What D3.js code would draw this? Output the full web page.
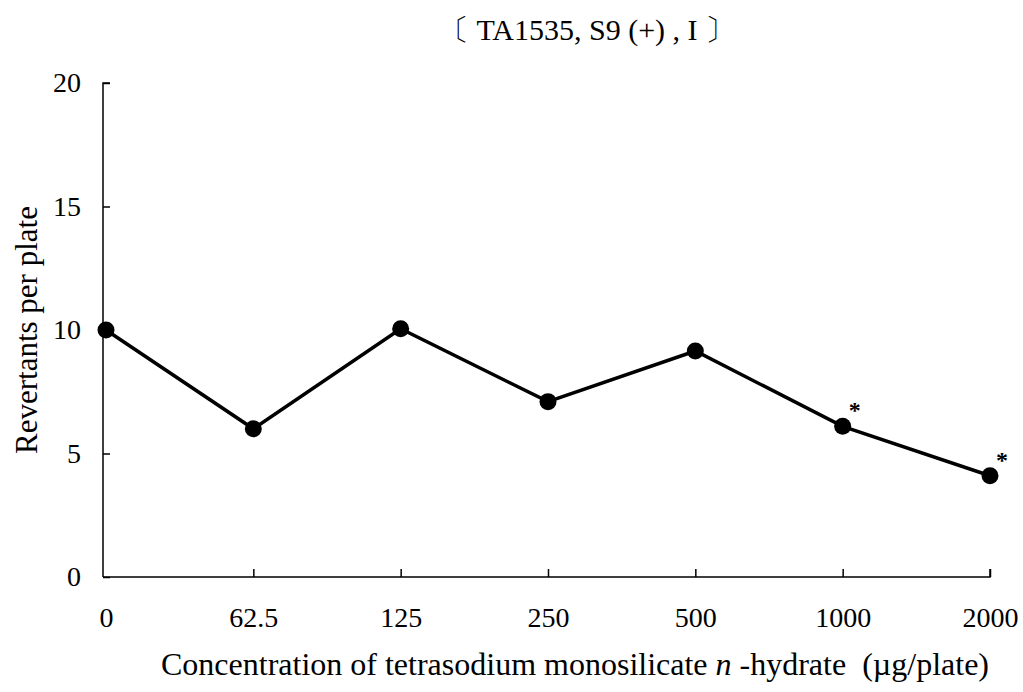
<!DOCTYPE html>
<html>
<head>
<meta charset="utf-8">
<script src="https://cdn.jsdelivr.net/npm/d3@7"></script>
<style>
  body { margin: 0; background: #fff; }
  svg text { font-family: "Liberation Serif", "Times New Roman", serif; white-space: pre; }
</style>
</head>
<body>
<svg id="chart" width="1023" height="692"></svg>
<script>
// data
var doses = ["0", "62.5", "125", "250", "500", "1000", "2000"];
var revertants = [10, 6, 10.05, 7.1, 9.15, 6.1, 4.1];
var significant = [false, false, false, false, false, true, true];
var yTicks = [0, 5, 10, 15, 20];

var svg = d3.select("#chart");

var x = d3.scalePoint()
    .domain(doses)
    .range([106, 990]);

var y = d3.scaleLinear()
    .domain([0, 20])
    .range([577, 83]);

// title
svg.append("text")
    .attr("x", 587)
    .attr("y", 40)
    .attr("text-anchor", "middle")
    .style("font-size", "30px")
    .text("\u3014 TA1535, S9 (+) , I \u3015");

// y axis
var yAxis = svg.append("g")
    .attr("transform", "translate(103,0)")
    .call(d3.axisLeft(y).tickValues(yTicks).tickSize(-7).tickPadding(22));
yAxis.select(".domain").attr("stroke-width", 1.5).attr("d", "M7,83H0V577");
yAxis.selectAll(".tick line").attr("stroke-width", 1.5);
yAxis.selectAll(".tick text")
    .style("font-size", "28px")
    .attr("fill", "#000");

// x axis
var xAxis = svg.append("g")
    .attr("transform", "translate(0,577)")
    .call(d3.axisBottom(x).tickSize(-8).tickPadding(30));
xAxis.select(".domain").attr("stroke-width", 1.5).attr("d", "M103,0H990V-8");
xAxis.selectAll(".tick line").attr("stroke-width", 1.5);
xAxis.selectAll(".tick text")
    .style("font-size", "28px")
    .attr("fill", "#000");
xAxis.selectAll(".tick").filter(function (d) { return d === "0"; }).select("line").remove();

// axis titles
svg.append("text")
    .attr("transform", "translate(37,330) rotate(-90)")
    .attr("text-anchor", "middle")
    .style("font-size", "31px")
    .text("Revertants per plate");

var xt = svg.append("text")
    .attr("x", 575)
    .attr("y", 675)
    .attr("text-anchor", "middle")
    .style("font-size", "32px");
xt.append("tspan").text("Concentration of tetrasodium monosilicate ");
xt.append("tspan").style("font-style", "italic").text("n");
xt.append("tspan").text(" -hydrate  (\u00b5g/plate)");

// line
var line = d3.line()
    .x(function (d, i) { return x(doses[i]); })
    .y(function (d) { return y(d); });

svg.append("path")
    .datum(revertants)
    .attr("fill", "none")
    .attr("stroke", "#000")
    .attr("stroke-width", 3.5)
    .attr("d", line);

// points
svg.selectAll("circle.pt")
    .data(revertants)
    .enter()
    .append("circle")
    .attr("class", "pt")
    .attr("cx", function (d, i) { return x(doses[i]); })
    .attr("cy", function (d) { return y(d); })
    .attr("r", 8.5)
    .attr("fill", "#000");

// significance marks
svg.selectAll("text.sig")
    .data(revertants.filter(function (d, i) { return significant[i]; }))
    .enter()
    .append("text")
    .attr("class", "sig")
    .attr("x", function (d) { return x(doses[revertants.indexOf(d)]) + 12; })
    .attr("y", function (d) { return y(d) - 8; })
    .attr("text-anchor", "middle")
    .style("font-size", "24px")
    .style("font-weight", "bold")
    .text("*");
</script>
</body>
</html>
